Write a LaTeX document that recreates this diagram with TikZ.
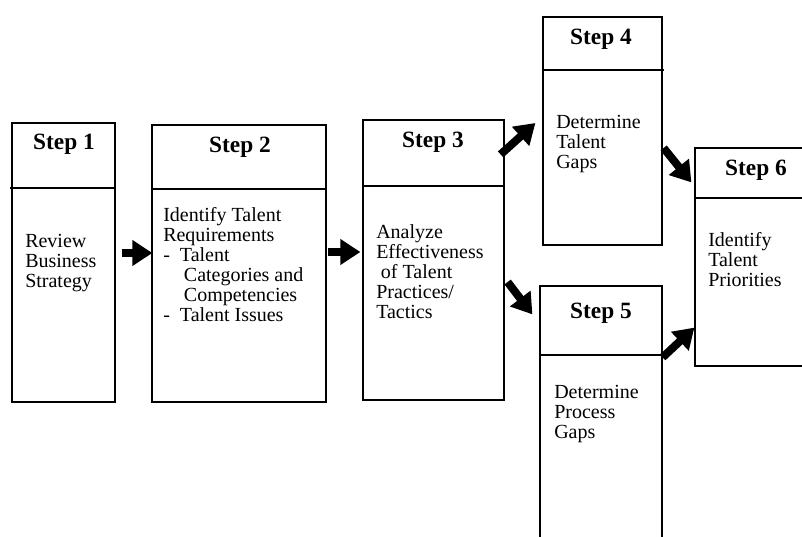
\documentclass[tikz,border=0pt]{standalone}
\usepackage{fontspec}
\setmainfont{Liberation Serif}
\usetikzlibrary{arrows.meta,fit}
\tikzset{
  stepbox/.style={draw, line width=0.9pt, inner sep=0pt},
  steptitle/.style={font=\fontsize{17.5}{20}\selectfont\bfseries, inner sep=0pt},
  steptext/.style={font=\fontsize{15}{15}\selectfont, align=left, anchor=north west, inner sep=0pt},
  bigarrow/.style={line width=6pt, -{Triangle[length=15pt,width=18.5pt]}}
}
\begin{document}
\begin{tikzpicture}[x=0.75pt,y=-0.75pt]
  \useasboundingbox (0,0) rectangle (802,536);
  \clip (0,0) rectangle (802,536);
  \node[stepbox, fit={(12,123) (115,402)}] (s1) {};
  \node[stepbox, fit={(152,125) (326,402)}] (s2) {};
  \node[stepbox, fit={(363,120) (504,400)}] (s3) {};
  \node[stepbox, fit={(543,17) (662,245)}] (s4) {};
  \node[stepbox, fit={(540,286) (662,580)}] (s5) {};
  \node[stepbox, fit={(695,148) (840,366)}] (s6) {};
  \draw[line width=0.9pt] (10,188) -- (115,188);
  \draw[line width=0.9pt] (152,189) -- (326,189);
  \draw[line width=0.9pt] (363,186) -- (504,186);
  \draw[line width=0.9pt] (543,70) -- (664,70);
  \draw[line width=0.9pt] (540,355) -- (662,355);
  \draw[line width=0.9pt] (695,198) -- (802,198);
  \node[steptitle] (t1) at (64,144) {Step 1};
  \node[steptitle] (t2) at (240,147) {Step 2};
  \node[steptitle] (t3) at (433,142) {Step 3};
  \node[steptitle] (t4) at (601,39) {Step 4};
  \node[steptitle] (t5) at (601,313) {Step 5};
  \node[steptitle] (t6) at (756,170) {Step 6};
  \node[steptext] (b1) at (25,234) {Review\\Business\\Strategy};
  \node[steptext] (b2) at (163,207) {Identify Talent\\Requirements\\-\hspace*{7.5pt}Talent\\\hspace*{15.5pt}Categories and\\\hspace*{15.5pt}Competencies\\-\hspace*{7.5pt}Talent Issues};
  \node[steptext] (b3) at (376,224) {Analyze\\Effectiveness\\\hspace*{3.5pt}of Talent\\Practices/\\Tactics};
  \node[steptext] (b4) at (556,115) {Determine\\Talent\\Gaps};
  \node[steptext] (b5) at (554,385) {Determine\\Process\\Gaps};
  \node[steptext] (b6) at (708,232) {Identify\\Talent\\Priorities};
  \draw[bigarrow] ([shift={(6,-9.5)}]s1.east) -- ([shift={(1,-10.5)}]s2.west);
  \draw[bigarrow] ([shift={(1,-11.5)}]s2.east) -- ([shift={(-2,-8)}]s3.west);
  \draw[bigarrow] ([shift={(-4,35)}]s3.north east) -- ([shift={(-7,-8)}]s4.west);
  \draw[bigarrow] ([shift={(3,22)}]s3.east) -- ([shift={(-7,29)}]s5.north west);
  \draw[bigarrow] ([shift={(1,17)}]s4.east) -- ([shift={(-3,35)}]s6.north west);
  \draw[bigarrow] ([shift={(0,72)}]s5.north east) -- ([shift={(0,-39)}]s6.south west);
\end{tikzpicture}
\end{document}
